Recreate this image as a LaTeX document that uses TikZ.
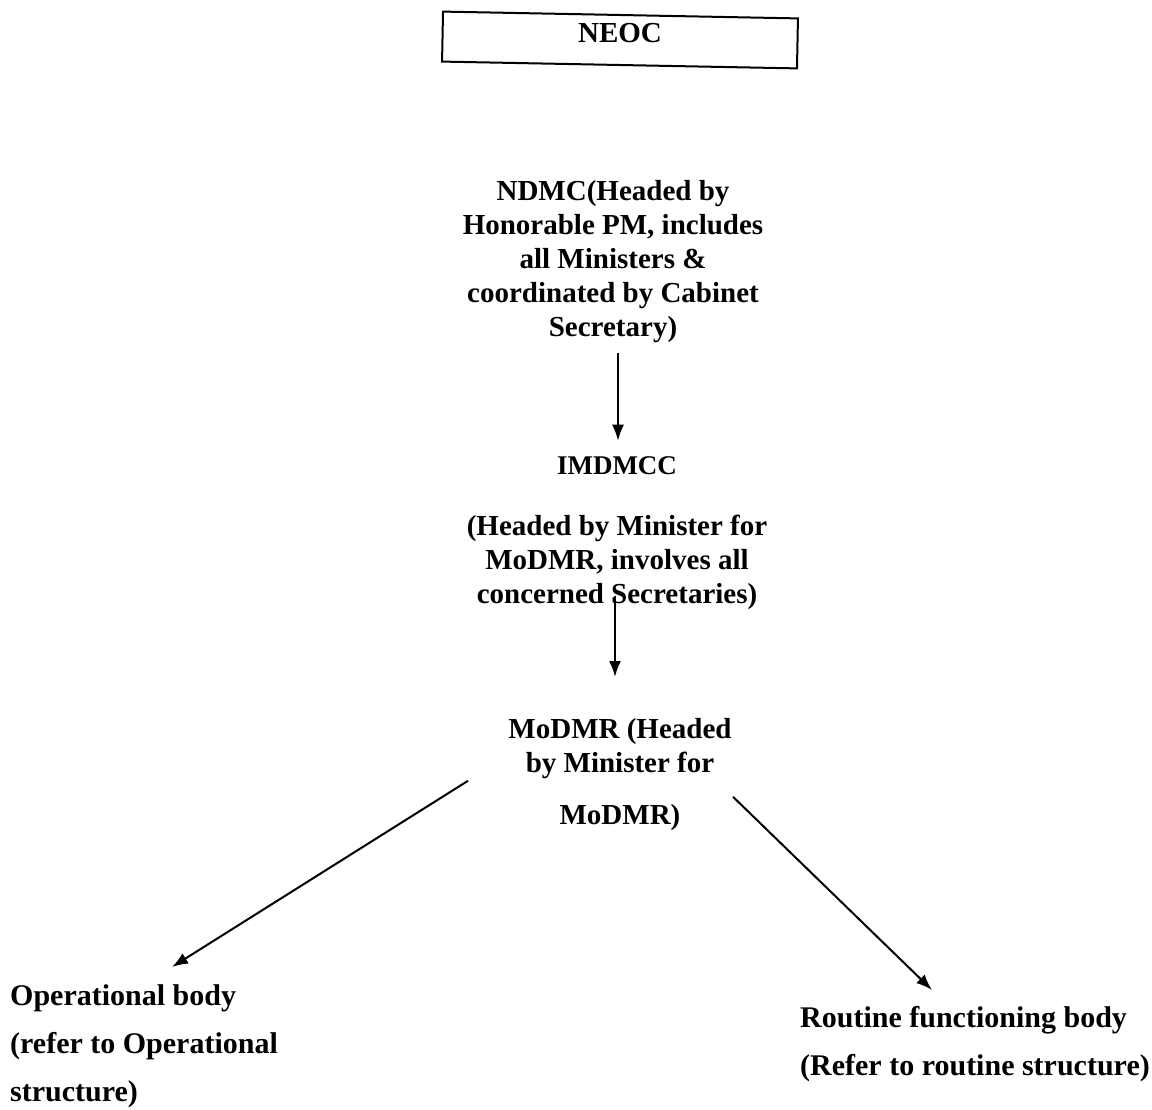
\documentclass[tikz,border=0pt]{standalone}
\usepackage{fontspec}
\setmainfont{Liberation Serif}
\usetikzlibrary{arrows.meta,calc}
\begin{document}
\begin{tikzpicture}[x=1pt,y=-1pt,
  every node/.style={font=\fontsize{29}{34}\selectfont\bfseries, inner sep=0pt},
  ctext/.style={align=center},
  ltext/.style={align=left, anchor=north west, font=\fontsize{30}{48}\selectfont\bfseries},
  arr/.style={line width=2pt, -{Latex[length=16pt,width=12pt]}}]
\useasboundingbox[fill=white] (0,0) rectangle (1152,1110);
\node[draw, line width=2pt, minimum width=355pt, minimum height=50pt, rotate=-1.1] (neoc) at (620,40) {};
\node (neoctext) at (620,33) {NEOC};
\node[ctext, anchor=north] (ndmc) at (613,180) {NDMC(Headed by\\Honorable PM, includes\\all Ministers \&\\coordinated by Cabinet\\Secretary)};
\node[font=\fontsize{27}{34}\selectfont\bfseries] (imdmcc) at (617,466) {IMDMCC};
\node[ctext, anchor=north] (imdesc) at (617,515) {(Headed by Minister for\\MoDMR, involves all\\concerned Secretaries)};
\node[ctext, anchor=north] (modmr) at (620,718) {MoDMR (Headed\\by Minister for};
\node (modmr2) at (620,818) {MoDMR)};
\node[ltext] (oper) at (10,984) {Operational body\\(refer to Operational\\structure)};
\node[ltext] (rout) at (800,1006) {Routine functioning body\\(Refer to routine structure)};
\draw[arr] ($(ndmc.south)+(5,10)$) -- ($(imdmcc.north)+(1,-16)$);
\draw[arr] ($(imdesc.south)+(-2,-14)$) -- ($(modmr.north)+(-5,-41)$);
\draw[arr] ($(modmr.south)+(-152,2)$) -- ($(oper.north west)+(162,-17)$);
\draw[arr] ($(modmr.south)+(113,18)$) -- ($(rout.north west)+(132,-16)$);
\end{tikzpicture}
\end{document}
